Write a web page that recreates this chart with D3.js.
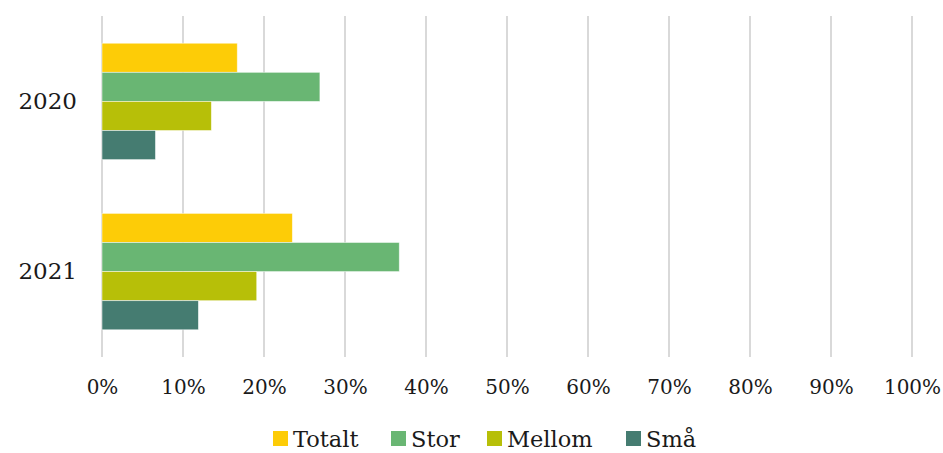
<!DOCTYPE html>
<html>
<head>
<meta charset="utf-8">
<script src="https://cdn.jsdelivr.net/npm/d3@7"></script>
<style>
  html, body { margin: 0; padding: 0; background: #fff; }
  svg { display: block; }
  text { font-family: "DejaVu Serif", Georgia, serif; fill: #1a1a1a; }
</style>
</head>
<body>
<svg id="chart" width="943" height="453"></svg>
<script>
// Share of companies per size class, by year
const years = ["2020", "2021"];
const seriesNames = ["Totalt", "Stor", "Mellom", "Små"];
const totalt = [0.167, 0.235];
const stor = [0.269, 0.367];
const mellom = [0.135, 0.191];
const smaa = [0.066, 0.119];
const xTicks = [0, 0.1, 0.2, 0.3, 0.4, 0.5, 0.6, 0.7, 0.8, 0.9, 1.0];
const colors = ["#FDCC07", "#69B673", "#B7BF08", "#457C71"];

const seriesValues = [totalt, stor, mellom, smaa];
const rows = years.map((yr, i) => ({
  year: yr,
  values: seriesNames.map((s, k) => ({ key: s, value: seriesValues[k][i] }))
}));

const svg = d3.select("#chart");
const plotLeft = 102, plotRight = 912, plotTop = 16, plotBottom = 357;

const x = d3.scaleLinear().domain([0, 1]).range([plotLeft, plotRight]);
const y0 = d3.scaleBand().domain(years).range([plotTop, plotBottom])
  .paddingInner(0.316).paddingOuter(0.16);
const y1 = d3.scaleBand().domain(seriesNames).range([0, y0.bandwidth()]);
const color = d3.scaleOrdinal().domain(seriesNames).range(colors);

// vertical gridlines
svg.append("g")
  .selectAll("line")
  .data(xTicks)
  .join("line")
  .attr("x1", d => x(d)).attr("x2", d => x(d))
  .attr("y1", plotTop).attr("y2", plotBottom)
  .attr("stroke", "#d9d9d9")
  .attr("stroke-width", 2);

// bars
const groups = svg.append("g")
  .selectAll("g")
  .data(rows)
  .join("g")
  .attr("transform", d => `translate(0,${y0(d.year)})`);

groups.selectAll("rect")
  .data(d => d.values)
  .join("rect")
  .attr("x", x(0))
  .attr("y", d => y1(d.key))
  .attr("width", d => x(d.value) - x(0))
  .attr("height", y1.bandwidth())
  .attr("fill", d => color(d.key))
  .attr("stroke", "rgba(255,255,255,0.6)")
  .attr("stroke-width", 0.8);

// x axis labels
const xAxis = d3.axisBottom(x)
  .tickValues(xTicks)
  .tickFormat(d3.format(".0%"))
  .tickSize(0)
  .tickPadding(0);
const gx = svg.append("g")
  .attr("transform", `translate(0,${plotBottom + 23})`)
  .call(xAxis);
gx.select(".domain").remove();
gx.selectAll("text")
  .attr("font-size", 20)
  .attr("font-family", "DejaVu Serif, Georgia, serif")
  .attr("fill", "#1a1a1a");

// y axis labels
const yAxis = d3.axisLeft(y0).tickSize(0).tickPadding(0);
const gy = svg.append("g")
  .attr("transform", `translate(${plotLeft - 25},0)`)
  .call(yAxis);
gy.select(".domain").remove();
gy.selectAll("text")
  .attr("font-size", 23)
  .attr("font-family", "DejaVu Serif, Georgia, serif")
  .attr("fill", "#1a1a1a");

// legend
const legendX = [273, 391, 487, 626];
const legend = svg.append("g")
  .selectAll("g")
  .data(seriesNames)
  .join("g")
  .attr("transform", (d, i) => `translate(${legendX[i]},431)`);
legend.append("rect")
  .attr("width", 15).attr("height", 15)
  .attr("fill", d => color(d));
legend.append("text")
  .attr("x", 20).attr("y", 16)
  .attr("font-size", 22.5)
  .text(d => d);
</script>
</body>
</html>
